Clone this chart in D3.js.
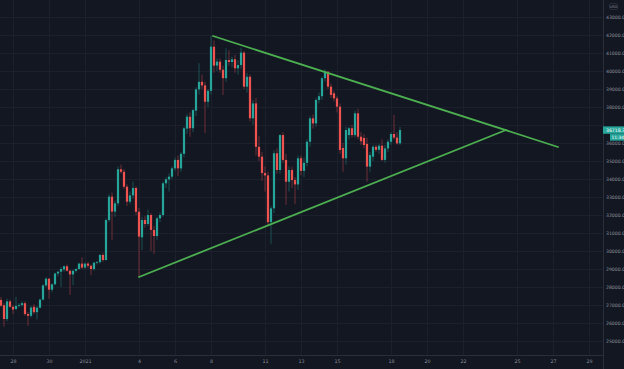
<!DOCTYPE html>
<html>
<head>
<meta charset="utf-8">
<script src="https://cdn.jsdelivr.net/npm/d3@7"></script>
<style>
  html, body { margin: 0; padding: 0; background: #131722; }
  svg { display: block; }
</style>
</head>
<body>
<div id="chart"></div>
<script>
// 4h candles, first one opens Dec 27 2020 08:00 UTC
var firstBar = Date.UTC(2020, 11, 27, 8)
var barHours = 4

var opens = [27280,26990,26220,27200,26900,26780,26950,27000,27100,26500,26400,26900,26600,26850,27300,28090,28460,27850,28150,28750,
  28850,28980,29150,28900,28700,28900,29000,29300,29080,29300,29180,29000,29350,29380,29780,29500,31720,33020,32190,32650,
  34540,34400,33570,32740,33090,33500,32180,30760,31720,31500,32000,31170,30830,31815,32000,33760,33980,34130,34590,35060,
  34590,35400,36800,37460,36820,37800,38980,39400,39200,38290,38900,41350,40300,40520,40070,39600,40610,40500,40650,40150,
  40330,41020,39130,39680,37370,38200,35790,35240,34330,34200,31600,32370,35430,34500,36440,35060,33850,34500,33940,33700,
  35150,34450,34900,36070,37370,37090,38390,38600,39600,39960,39130,38760,38480,38020,35720,35150,36440,36820,36440,37650,
  36350,36280,35950,34690,35240,35790,35620,35850,35060,35700,36070,36500,36300,35980]
var highs = [27450,27100,27350,27300,27000,27450,27100,27200,27200,26600,26950,27050,26950,27350,28150,28550,28500,28200,28800,28900,
  29100,29200,29250,28950,28950,29050,29350,29650,29350,29400,29250,29400,29450,29850,29900,31800,33150,33250,32800,34700,
  34800,34550,33700,33300,33850,33600,32400,31900,31950,32300,32100,31400,31900,32150,33850,34100,34300,34700,35200,35300,
  35500,36900,37600,37700,37900,39100,40430,39800,39400,39000,41950,41700,40700,40700,40300,41260,41150,40800,40900,40600,
  41300,41100,39900,39800,38400,38500,36400,35500,34700,34400,32500,35600,35700,36500,36600,35400,34700,34680,34100,35300,
  35300,35200,36200,37500,37600,38500,38800,39700,40100,40000,39300,38900,38600,38200,36000,36900,36900,37000,37800,37900,
  36600,36500,36300,35500,35900,35900,35950,36200,35900,36200,36600,37560,36600,36900]
var lows = [26900,25800,26100,26850,26500,26700,26850,26900,26400,25850,26300,26500,26200,26800,27250,28000,27350,27700,28100,28600,
  28000,28850,28850,27550,28100,28800,28950,29000,29000,29050,28650,28900,29250,29300,29400,29450,31600,30600,31900,32500,
  34300,33450,32500,32600,32900,32000,28560,30050,31300,31400,30000,29830,30600,31600,31900,33500,33300,34000,34450,34150,
  34400,35200,36500,36350,36600,37500,38700,39000,36550,38000,38700,39900,40000,39900,38670,39400,40300,40200,39900,39800,
  40100,39000,38800,37200,37000,35300,35000,33900,33300,31400,30400,32100,34300,34300,34900,32560,33300,33500,32600,33400,
  34200,34100,34700,35800,36800,36900,38200,38400,39400,39000,38500,38300,37700,35400,34400,34800,36200,36300,36300,36200,
  35900,35700,33850,34400,35000,35500,35400,35000,34900,35500,35900,36200,35900,35900]
var closes = [26960,26220,27200,26900,26750,26950,27000,27100,26500,26400,26860,26600,26850,27300,28090,28460,27850,28150,28750,28850,
  29000,29150,28900,28700,28900,29000,29300,29080,29300,29180,29000,29350,29380,29780,29500,31720,33020,32190,32650,34540,
  34400,33570,32740,33090,33500,32180,30800,31720,31500,32000,31170,30830,31815,32000,33760,33980,34130,34590,35060,34590,
  35400,36815,37460,36820,37830,38980,39400,39200,38290,38900,41350,40300,40520,40070,39600,40610,40500,40650,40150,40330,
  41020,39130,39680,37370,38200,35790,35240,34330,34200,31600,32370,35430,34500,36440,35060,33850,34500,33940,33700,35150,
  34450,34900,36070,37370,37090,38390,38600,39600,39960,39130,38670,38480,38020,35610,35150,36720,36820,36440,37650,36350,
  36100,35890,34690,35330,35790,35620,35850,35060,35700,36070,36500,36300,35980,36718]

// y axis ticks
var yTicks = [25000,26000,27000,28000,29000,30000,31000,32000,33000,34000,35000,36000,38000,39000,40000,41000,42000,43000]
// x axis ticks
var xTickDates = [Date.UTC(2020,11,28), Date.UTC(2020,11,30), Date.UTC(2021,0,1), Date.UTC(2021,0,4), Date.UTC(2021,0,6),
  Date.UTC(2021,0,8), Date.UTC(2021,0,11), Date.UTC(2021,0,13), Date.UTC(2021,0,15), Date.UTC(2021,0,18),
  Date.UTC(2021,0,20), Date.UTC(2021,0,22), Date.UTC(2021,0,25), Date.UTC(2021,0,27), Date.UTC(2021,0,29)]
var xTickLabels = ["28","30","2021","4","6","8","11","13","15","18","20","22","25","27","29"]

// triangle trend lines (time, price)
var upperLine = [[Date.UTC(2021,0,8,2,40), 41944], [Date.UTC(2021,0,27,6,40), 35778]]
var lowerLine = [[Date.UTC(2021,0,4,0,0), 28556], [Date.UTC(2021,0,24,9,20), 36722]]

var lastPrice = "36718.3"
var countdown = "11:34"

var width = 624
var height = 369
var plotRight = 603
var plotBottom = 355

var up = "#26a69a"
var down = "#ef5350"
var textColor = "#8c909b"

var svg = d3.select("#chart").append("svg")
    .attr("width", width)
    .attr("height", height)
    .style("font-family", "'DejaVu Sans', sans-serif")

svg.append("rect").attr("width", width).attr("height", height).attr("fill", "#131722")

// scales: 18px per day, 18px per 1000 USD
var x = d3.scaleUtc()
    .domain([Date.UTC(2021,0,1), Date.UTC(2021,0,31)])
    .range([85, 85 + 30 * 18])
var y = d3.scaleLinear()
    .domain([25000, 43000])
    .range([341, 17])

var bars = opens.map(function (o, i) {
    return { t: firstBar + i * barHours * 3600e3, o: o, h: highs[i], l: lows[i], c: closes[i] }
})

// grid
var grid = svg.append("g")
grid.selectAll("line.h")
    .data(d3.range(25000, 44000, 1000))
    .enter().append("line")
    .attr("x1", 0).attr("x2", plotRight)
    .attr("y1", function (d) { return Math.round(y(d)) + 0.5 })
    .attr("y2", function (d) { return Math.round(y(d)) + 0.5 })
    .attr("stroke", "#1c202c")
grid.selectAll("line.v")
    .data(xTickDates)
    .enter().append("line")
    .attr("y1", 0).attr("y2", plotBottom)
    .attr("x1", function (d) { return Math.round(x(d)) + 0.5 })
    .attr("x2", function (d) { return Math.round(x(d)) + 0.5 })
    .attr("stroke", "#1c202c")

// candles
var candles = svg.append("g")
candles.selectAll("line.wick")
    .data(bars)
    .enter().append("line")
    .attr("x1", function (d) { return x(d.t) })
    .attr("x2", function (d) { return x(d.t) })
    .attr("y1", function (d) { return y(d.h) })
    .attr("y2", function (d) { return y(d.l) })
    .attr("stroke", function (d) { return d.c >= d.o ? up : down })
    .attr("stroke-opacity", 0.4)
    .attr("stroke-width", 1)

candles.selectAll("rect.body")
    .data(bars)
    .enter().append("rect")
    .attr("x", function (d) { return x(d.t) - 1.1 })
    .attr("width", 2.2)
    .attr("y", function (d) { return y(Math.max(d.o, d.c)) })
    .attr("height", function (d) { return Math.max(0.8, Math.abs(y(d.o) - y(d.c))) })
    .attr("fill", function (d) { return d.c >= d.o ? up : down })

// trend lines
var line = d3.line()
    .x(function (d) { return x(d[0]) })
    .y(function (d) { return y(d[1]) })
svg.selectAll("path.trend")
    .data([upperLine, lowerLine])
    .enter().append("path")
    .attr("d", line)
    .attr("fill", "none")
    .attr("stroke", "#4caf50")
    .attr("stroke-width", 1.8)
    .attr("stroke-linecap", "round")

// axis panels
svg.append("rect").attr("x", plotRight).attr("y", 0).attr("width", width - plotRight).attr("height", height).attr("fill", "#131722")
svg.append("rect").attr("x", 0).attr("y", plotBottom).attr("width", width).attr("height", height - plotBottom).attr("fill", "#131722")
svg.append("line").attr("x1", plotRight + 0.5).attr("x2", plotRight + 0.5).attr("y1", 0).attr("y2", height).attr("stroke", "#2a2e39")
svg.append("line").attr("x1", 0).attr("x2", plotRight).attr("y1", plotBottom + 0.5).attr("y2", plotBottom + 0.5).attr("stroke", "#2a2e39")

var yAxis = d3.axisRight(y)
    .tickValues(yTicks)
    .tickFormat(d3.format(".1f"))
    .tickSize(0)
    .tickPadding(3)
var gy = svg.append("g").attr("transform", "translate(" + plotRight + ",0)").call(yAxis)
gy.select(".domain").remove()
gy.selectAll("text").attr("fill", textColor).style("font-size", "4.6px").style("font-family", "'DejaVu Sans', sans-serif")

var xAxis = d3.axisBottom(x)
    .tickValues(xTickDates)
    .tickFormat(function (d, i) { return xTickLabels[i] })
    .tickSize(0)
    .tickPadding(5)
var gx = svg.append("g").attr("transform", "translate(0," + plotBottom + ")").call(xAxis)
gx.select(".domain").remove()
gx.selectAll("text").attr("fill", textColor).style("font-size", "4.8px").style("font-family", "'DejaVu Sans', sans-serif")

// currency box
svg.append("rect").attr("x", 609.5).attr("y", 3.5).attr("width", 8).attr("height", 6).attr("rx", 1)
    .attr("fill", "#131722").attr("stroke", "#363a45").attr("stroke-width", 0.6)
svg.append("text").attr("x", 613.5).attr("y", 7.9).attr("text-anchor", "middle")
    .attr("fill", textColor).style("font-size", "3.6px").text("USD")

// last price tag
var yLast = y(36718)
svg.append("rect").attr("x", plotRight).attr("y", yLast - 3.7).attr("width", width - plotRight).attr("height", 7.4).attr("fill", up)
svg.append("text").attr("x", 606).attr("y", yLast + 1.6).attr("fill", "#ffffff").style("font-size", "4.6px").text(lastPrice)
svg.append("rect").attr("x", 610).attr("y", yLast + 4).attr("width", 14).attr("height", 6.6).attr("fill", up)
svg.append("text").attr("x", 611.5).attr("y", yLast + 8.8).attr("fill", "#ffffff").style("font-size", "4.4px").text(countdown)
</script>
</body>
</html>
